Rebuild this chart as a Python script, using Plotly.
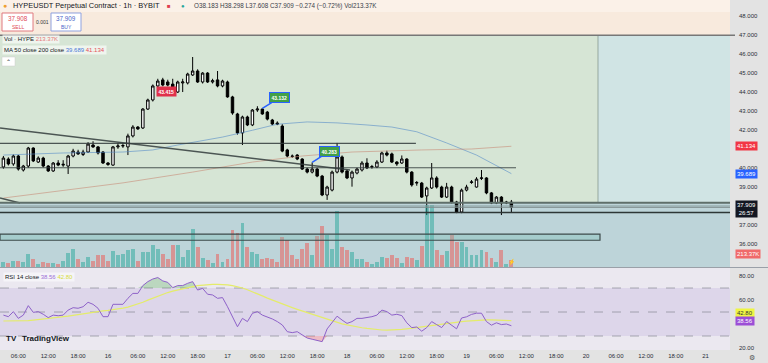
import plotly.graph_objects as go
import pandas as pd

W, H = 768, 363
# ---------------- data ----------------
start_time = "2025-02-15 03:00"
opens = [40.04,40.46,40.20,40.62,39.88,40.09,41.04,40.30,40.51,40.09,39.83,40.25,40.14,40.09,40.62,40.83,40.70,40.83,41.20,41.10,
         40.83,40.25,40.14,41.10,41.15,41.10,41.68,42.15,42.10,43.10,43.58,44.32,44.64,44.53,44.42,44.00,44.48,44.48,44.90,45.11,
         44.53,45.00,44.53,44.64,44.32,44.53,43.74,42.84,41.84,42.68,42.26,43.05,43.10,42.94,42.52,42.36,42.20,40.94,40.62,40.67,
         40.46,39.93,39.77,39.93,39.56,38.56,38.82,39.77,40.57,39.83,39.46,39.72,39.88,40.25,40.04,40.04,40.30,40.78,40.73,40.30,
         40.25,40.46,39.77,39.19,39.19,38.51,38.93,39.46,38.98,38.45,38.98,38.19,37.66,38.82,39.22,38.98,39.44,39.46,38.67,38.14,
         38.45,38.14,38.183]
closes = [40.51,40.20,40.62,39.93,40.09,41.04,40.36,40.51,40.09,39.83,40.25,40.14,40.18,40.62,40.88,40.73,40.83,41.25,41.10,40.78,
          40.25,40.17,41.10,41.15,41.17,41.68,42.15,42.05,43.10,43.58,44.32,44.58,44.37,44.37,44.00,44.53,44.53,44.95,45.11,44.53,
          45.00,44.53,44.60,44.32,44.58,43.74,42.89,41.84,42.68,42.26,43.05,43.10,42.84,42.57,42.31,42.31,40.88,40.62,40.60,40.46,
          39.93,39.77,39.93,39.56,38.56,38.98,39.77,40.57,39.77,39.46,39.77,39.93,40.25,39.99,40.06,40.30,40.78,40.67,40.30,40.20,
          40.46,39.77,39.09,39.22,38.45,38.93,39.46,38.98,38.45,38.98,38.19,37.66,38.82,38.98,39.25,39.40,39.46,38.67,38.14,38.45,
          38.14,38.18,37.909]
highs = [40.62,40.55,40.70,40.68,40.15,41.10,41.08,40.60,40.58,40.14,40.30,40.40,40.40,40.68,41.00,40.95,40.95,41.35,41.40,41.15,
         40.88,40.30,41.15,41.30,41.30,41.80,42.25,42.20,43.15,43.65,44.40,44.70,44.75,44.65,44.70,44.60,44.70,45.02,45.85,45.20,
         45.05,45.05,44.70,45.11,44.65,44.60,43.80,42.90,42.75,42.75,43.10,43.25,43.132,43.00,42.58,42.45,42.30,41.00,40.70,40.72,
         40.50,40.00,40.283,40.00,39.62,39.05,39.85,41.31,40.65,39.90,39.85,40.00,40.35,40.50,40.15,40.40,40.85,40.90,40.80,40.35,
         40.65,40.50,39.82,39.30,39.25,39.00,40.25,39.55,39.05,39.20,39.05,38.25,38.90,39.10,39.35,39.50,39.88,39.50,38.72,38.50,
         38.50,38.25,38.298]
lows = [39.95,40.12,40.10,39.85,39.80,40.00,40.30,40.25,40.02,39.78,39.78,40.08,40.05,39.67,40.55,40.68,40.62,40.78,41.05,40.70,
        40.20,40.10,40.10,41.00,41.05,40.67,41.60,42.00,42.05,43.05,43.50,44.25,44.30,44.30,43.90,43.95,44.00,44.40,44.85,44.48,
        44.45,44.48,44.45,44.25,44.25,43.70,42.80,41.75,41.20,42.20,42.20,42.95,42.80,42.50,42.25,42.25,40.82,40.55,40.52,40.40,
        39.88,39.70,39.70,39.50,38.50,38.30,38.75,39.70,39.70,39.40,39.00,39.65,39.80,39.93,39.95,39.98,40.25,40.60,40.25,40.10,
        40.20,39.70,39.00,39.05,38.40,37.50,38.88,38.90,38.40,38.40,38.12,37.60,37.60,38.75,39.15,38.95,39.35,38.60,38.08,38.08,
        37.50,38.08,37.608]
volumes_k = [150,120,180,180,150,390,240,90,150,120,120,90,180,420,540,240,150,300,180,360,
             360,180,480,360,390,510,540,180,450,450,660,540,390,240,660,660,300,510,1170,600,
             270,210,120,390,150,240,1140,1050,1350,600,450,390,240,270,240,150,900,810,360,240,
             540,720,360,960,1260,990,540,1710,600,510,450,240,240,150,90,150,300,270,360,270,
             120,300,270,210,630,1890,1890,510,360,480,990,750,750,600,360,360,510,450,270,150,
             510,90,213.37]
rsi = [47.4,46.1,50.3,44.7,47.4,55.3,49.7,50.3,48.1,45.3,47.4,46.9,47.4,51.6,53.6,53.1,54.4,58.1,56.4,53.1,
       46.1,46.1,56.4,56.4,56.4,61.4,65.5,65.5,72.0,75.3,77.5,78.7,75.9,74.7,70.3,72.0,72.0,73.9,75.3,68.3,
       69.7,64.8,64.2,61.4,62.0,54.4,46.1,37.7,44.7,42.0,48.9,50.3,47.4,46.1,44.2,42.0,39.2,33.6,32.8,33.6,
       30.8,28.3,27.3,26.3,25.3,35.9,41.7,46.5,43.3,40.5,42.0,44.7,44.7,45.3,46.1,47.4,51.6,50.3,47.4,48.1,
       47.0,41.0,37.0,37.5,34.0,37.0,42.0,39.5,37.0,42.0,39.0,36.0,45.0,46.0,48.0,49.0,49.0,42.0,39.0,41.0,
       39.5,40.0,38.56]
rsi_ma = [42.5,42.5,42.5,42.5,42.5,42.8,43.2,43.6,44.1,44.5,45.1,45.7,46.1,46.6,47.2,47.9,48.6,49.3,49.9,50.5,
          51.0,51.4,51.8,52.4,53.2,54.1,55.3,56.6,58.1,59.9,61.6,63.3,64.9,66.2,67.4,68.5,69.5,70.4,71.2,72.0,
          72.5,72.9,73.1,73.1,73.0,72.6,72.0,71.1,70.0,68.5,67.0,65.2,63.4,61.6,59.9,58.2,56.6,55.1,53.6,52.2,
          50.8,49.3,47.9,46.5,45.1,43.8,42.4,41.2,40.1,39.2,38.3,37.5,36.9,36.3,35.7,35.2,35.0,34.9,35.0,35.1,
          35.5,36.0,36.6,37.2,37.7,38.3,38.9,39.5,40.1,40.6,41.1,41.6,42.0,42.4,42.8,43.1,43.3,43.4,43.4,43.3,
          43.1,42.95,42.80]
ma50_idx = [0, 12, 24, 30, 35, 44, 50, 55, 61, 67, 73, 78, 83, 89, 95, 102]
ma50_val = [40.67, 40.78, 40.83, 40.94, 41.20, 41.62, 41.98, 42.30, 42.42, 42.37, 42.26, 42.15, 41.90, 41.31, 40.67, 39.689]
ma200_idx = [0, 12, 24, 38, 50, 60, 70, 84, 94, 102]
ma200_val = [38.40, 38.82, 39.20, 39.77, 40.30, 40.62, 40.83, 40.94, 40.99, 41.134]

price_ticks_display = [36, 37, 39, 40, 42, 43, 44, 45, 46, 47, 48]
rsi_ticks = [20, 60, 80]
time_tick_vals = ["2025-02-15 06:00","2025-02-15 12:00","2025-02-15 18:00","2025-02-16 00:00","2025-02-16 06:00",
                  "2025-02-16 12:00","2025-02-16 18:00","2025-02-17 00:00","2025-02-17 06:00","2025-02-17 12:00",
                  "2025-02-17 18:00","2025-02-18 00:00","2025-02-18 06:00","2025-02-18 12:00","2025-02-18 18:00",
                  "2025-02-19 00:00","2025-02-19 06:00","2025-02-19 12:00","2025-02-19 18:00","2025-02-20 00:00",
                  "2025-02-20 06:00","2025-02-20 12:00","2025-02-20 18:00","2025-02-21 00:00","2025-02-21 06:00"]
time_tick_text = ["06:00","12:00","18:00","16","06:00","12:00","18:00","17","06:00","12:00","18:00","18","06:00",
                  "12:00","18:00","19","06:00","12:00","18:00","20","06:00","12:00","18:00","21","06:0"]

times = pd.date_range(start_time, periods=len(closes), freq="h")

# ---------------- layout helpers ----------------
def px(x):
    return x / W
def py(y):
    return 1 - y / H

X_END = 730
FONT = "Liberation Sans"
main_dom = [py(267), py(0)]
rsi_dom = [py(350), py(268)]
price_range = [48 - (267 - 16.3) / 18.93, 48 + 16.3 / 18.93]
rsi_range = [80 - (350 - 276) / 1.2, 80 + (276 - 268) / 1.2]
x_range = ["2025-02-15 02:19", "2025-02-21 04:54"]

fig = go.Figure()

# volume (overlay on main pane)
vol_colors = ["rgba(38,166,154,0.5)" if c >= o else "rgba(239,83,80,0.5)" for o, c in zip(opens, closes)]
fig.add_trace(go.Bar(x=times, y=volumes_k, marker_color=vol_colors, marker_line_width=0,
                     xaxis="x", yaxis="y3", width=0.78 * 3600 * 1000, showlegend=False, hoverinfo="skip"))

# moving averages
fig.add_trace(go.Scatter(x=[times[i] for i in ma50_idx], y=ma50_val, mode="lines",
                         line=dict(color="rgba(86,140,200,0.6)", width=1), xaxis="x", yaxis="y", showlegend=False))
fig.add_trace(go.Scatter(x=[times[i] for i in ma200_idx], y=ma200_val, mode="lines",
                         line=dict(color="rgba(200,140,120,0.6)", width=1), xaxis="x", yaxis="y", showlegend=False))

# candles
fig.add_trace(go.Candlestick(x=times, open=opens, high=highs, low=lows, close=closes,
                             increasing=dict(line=dict(color="#000000", width=1), fillcolor="#ffffff"),
                             decreasing=dict(line=dict(color="#000000", width=1), fillcolor="#000000"),
                             whiskerwidth=0, xaxis="x", yaxis="y", showlegend=False))

# RSI pane
fig.add_trace(go.Scatter(x=times, y=[70] * len(rsi), mode="lines", line=dict(width=0),
                         xaxis="x2", yaxis="y2", showlegend=False, hoverinfo="skip"))
fig.add_trace(go.Scatter(x=times, y=[max(r, 70) for r in rsi], mode="lines", line=dict(width=0),
                         fill="tonexty", fillcolor="rgba(76,175,80,0.3)",
                         xaxis="x2", yaxis="y2", showlegend=False, hoverinfo="skip"))
fig.add_trace(go.Scatter(x=times, y=[30] * len(rsi), mode="lines", line=dict(width=0),
                         xaxis="x2", yaxis="y2", showlegend=False, hoverinfo="skip"))
fig.add_trace(go.Scatter(x=times, y=[min(r, 30) for r in rsi], mode="lines", line=dict(width=0),
                         fill="tonexty", fillcolor="rgba(242,54,69,0.25)",
                         xaxis="x2", yaxis="y2", showlegend=False, hoverinfo="skip"))
fig.add_trace(go.Scatter(x=times, y=rsi_ma, mode="lines", line=dict(color="#e4ec6a", width=1.2),
                         xaxis="x2", yaxis="y2", showlegend=False))
fig.add_trace(go.Scatter(x=times, y=rsi, mode="lines", line=dict(color="#8e62c9", width=1),
                         xaxis="x2", yaxis="y2", showlegend=False))

shapes = []
# backgrounds
shapes.append(dict(type="rect", xref="paper", yref="paper", x0=0, x1=px(X_END), y0=main_dom[0], y1=1,
                   fillcolor="#bdd4d9", line_width=0, layer="below"))
shapes.append(dict(type="rect", xref="paper", yref="y", x0=0, x1=px(X_END), y0=47, y1=price_range[1],
                   fillcolor="#f8eadd", line_width=0, layer="below"))
shapes.append(dict(type="rect", xref="paper", yref="y", x0=0, x1=px(598), y0=38.15, y1=47,
                   fillcolor="#d6e5d5", line_width=0, layer="below"))
shapes.append(dict(type="rect", xref="paper", yref="y", x0=px(598), x1=px(X_END), y0=38.15, y1=47,
                   fillcolor="#d0e4e4", line_width=0, layer="below"))
shapes.append(dict(type="line", xref="paper", yref="y", x0=px(598), x1=px(598), y0=38.15, y1=47,
                   line=dict(color="rgba(90,110,100,0.5)", width=1), layer="below"))
shapes.append(dict(type="rect", xref="paper", yref="paper", x0=0, x1=px(X_END), y0=rsi_dom[0], y1=rsi_dom[1],
                   fillcolor="#ebe8f0", line_width=0, layer="below"))
shapes.append(dict(type="rect", xref="paper", yref="y2", x0=0, x1=px(X_END), y0=30, y1=70,
                   fillcolor="rgba(126,87,194,0.12)", line_width=0, layer="below"))
for lv in (70, 50, 30):
    shapes.append(dict(type="line", xref="paper", yref="y2", x0=0, x1=px(X_END), y0=lv, y1=lv,
                       line=dict(color="rgba(120,123,134,0.6)", width=1, dash="dash"), layer="below"))
# pane separator
shapes.append(dict(type="line", xref="paper", yref="paper", x0=0, x1=1, y0=py(267.5), y1=py(267.5),
                   line=dict(color="#9aa0a8", width=1)))

# drawings (price coordinates)
dark = "rgba(50,60,60,0.85)"
shapes += [
    dict(type="line", xref="paper", yref="y", x0=0, x1=px(X_END + 5), y0=47, y1=47, line=dict(color="#777", width=1.5)),
    dict(type="line", xref="x", yref="y", x0="2025-02-15 02:19", y0=42.10, x1="2025-02-18 00:36", y1=39.88,
         line=dict(color=dark, width=1.6)),
    dict(type="line", xref="x", yref="y", x0="2025-02-15 02:19", y0=38.40, x1="2025-02-15 06:20", y1=38.14,
         line=dict(color=dark, width=1.6)),
    dict(type="line", xref="x", yref="y", x0="2025-02-15 02:19", y0=41.29, x1="2025-02-18 13:50", y1=41.29,
         line=dict(color=dark, width=1.2)),
    dict(type="line", xref="x", yref="y", x0="2025-02-15 02:19", y0=40.00, x1="2025-02-19 09:56", y1=40.00,
         line=dict(color=dark, width=1.2)),
    dict(type="line", xref="paper", yref="y", x0=0, x1=px(X_END), y0=38.15, y1=38.15, line=dict(color="#5f6f6a", width=2)),
    dict(type="line", xref="paper", yref="y", x0=0, x1=px(X_END), y0=37.98, y1=37.98, line=dict(color="#8aa0a0", width=1)),
    dict(type="line", xref="paper", yref="y", x0=0, x1=px(X_END), y0=37.909, y1=37.909, line=dict(color="#7d8c8c", width=1)),
    dict(type="line", xref="paper", yref="y", x0=0, x1=px(X_END), y0=37.63, y1=37.63, line=dict(color="#2d3636", width=1.5)),
    dict(type="rect", xref="paper", yref="y", x0=0, x1=px(600), y0=36.17, y1=36.49,
         fillcolor="rgba(120,190,180,0.35)", line=dict(color="#3c4a4a", width=1.2)),
]

ann = []
def text(x, y, t, size=7, color="#131722", anchor="left", bg=None, bold=False, bordercolor=None):
    d = dict(xref="paper", yref="paper", x=px(x), y=py(y), text=(f"<b>{t}</b>" if bold else t), showarrow=False,
             xanchor=anchor, yanchor="middle", font=dict(family=FONT, size=size, color=color))
    if bg:
        d.update(bgcolor=bg, borderpad=1)
    if bordercolor:
        d.update(bordercolor=bordercolor, borderwidth=1)
    ann.append(d)

# header
shapes.append(dict(type="rect", xref="paper", yref="paper", x0=0, x1=px(X_END), y0=py(12), y1=1,
                   fillcolor="#fbf1e8", line_width=0, layer="below"))
text(1, 6, "●", size=7, color="#f0a030")
text(11, 6, "HYPEUSDT Perpetual Contract · 1h · BYBIT", size=7.4)
text(165, 6, "■", size=6, color="#e04050")
text(179, 6, "●", size=6, color="#26a69a")
text(192, 6, "O38.183 H38.298 L37.608 C37.909 −0.274 (−0.72%) Vol213.37K", size=6.3, color="#3a3e48")
shapes.append(dict(type="rect", xref="paper", yref="paper", x0=px(2), x1=px(33), y0=py(31), y1=py(13),
                   fillcolor="#ffffff", line=dict(color="#e07a80", width=1)))
shapes.append(dict(type="rect", xref="paper", yref="paper", x0=px(51), x1=px(81), y0=py(31), y1=py(13),
                   fillcolor="#ffffff", line=dict(color="#8fa2e0", width=1)))
text(17.5, 19, "37.908", size=6.3, color="#e04a55", anchor="center")
text(17.5, 26.5, "SELL", size=5, color="#e04a55", anchor="center")
text(42, 22, "0.001", size=5, color="#333", anchor="center")
text(66, 19, "37.909", size=6.3, color="#4a64c8", anchor="center")
text(66, 26.5, "BUY", size=5, color="#4a64c8", anchor="center")
text(2, 38.5, "Vol · HYPE <span style='color:#e5787a'>213.37K</span>", size=6, bg="rgba(255,255,255,0.6)")
text(2, 50, "MA 50 close 200 close <span style='color:#4a78d8'>39.689</span> <span style='color:#e5505a'>41.134</span>",
     size=6, bg="rgba(255,255,255,0.6)")
shapes.append(dict(type="rect", xref="paper", yref="paper", x0=px(2), x1=px(15), y0=py(66), y1=py(57),
                   fillcolor="#ffffff", line=dict(color="#cccccc", width=0.5)))
text(8.5, 62, "⌃", size=6, anchor="center")

# price labels on chart
ann.append(dict(xref="x", yref="y", x="2025-02-16 11:40", y=44.05, text="<b>43.415</b>", showarrow=False,
                font=dict(family=FONT, size=5, color="white"), bgcolor="#e0314b", borderpad=1.5))
for tx, ty, ax_t, ay_t, lab in [("2025-02-17 07:00", 43.132, "2025-02-17 10:30", 43.70, "43.132"),
                                ("2025-02-17 17:00", 40.283, "2025-02-17 20:30", 40.88, "40.283")]:
    ann.append(dict(xref="x", yref="y", x=tx, y=ty, ax=ax_t, ay=ay_t, axref="x", ayref="y",
                    text=f"<b>{lab}</b>", showarrow=True, arrowhead=0, arrowcolor="#2962ff", arrowwidth=1.5,
                    font=dict(family=FONT, size=5, color="white"), bgcolor="#43a047",
                    bordercolor="#2962ff", borderwidth=1, borderpad=1.5))

# right axis coloured labels
for val, lab, bg, fc in [(41.134, "41.134", "#f23645", "white"), (39.689, "39.689", "#2962ff", "white")]:
    ann.append(dict(xref="paper", yref="y", x=px(735), y=val, text=lab, showarrow=False, xanchor="left",
                    font=dict(family=FONT, size=6, color=fc), bgcolor=bg, borderpad=1))
ann.append(dict(xref="paper", yref="y", x=px(735), y=37.80, text="37.909<br>26:57", showarrow=False, xanchor="left",
                font=dict(family=FONT, size=6, color="white"), bgcolor="#131722", borderpad=1))
ann.append(dict(xref="paper", yref="paper", x=px(735), y=py(258.5), text="213.37K", showarrow=False, xanchor="left",
                font=dict(family=FONT, size=6, color="white"), bgcolor="#f06a6a", borderpad=1))
ann.append(dict(xref="paper", yref="paper", x=px(735), y=py(318), text="42.80", showarrow=False, xanchor="left",
                font=dict(family=FONT, size=6, color="#333"), bgcolor="#eef542", borderpad=1))
ann.append(dict(xref="paper", yref="paper", x=px(735), y=py(325.5), text="38.56", showarrow=False, xanchor="left",
                font=dict(family=FONT, size=6, color="white"), bgcolor="#9c4fd6", borderpad=1))
text(3, 277, "RSI 14 close <span style='color:#9c6fd6'>38.56</span> <span style='color:#d5dc40'>42.80</span>", size=6,
     bg="rgba(255,255,255,0.5)")
text(4, 338, "<b>TV</b>", size=8)
text(20, 338, "<b>TradingView</b>", size=8)
text(511, 262, "⚡", size=6, color="#d04090", anchor="center")
text(752, 357, "⚙", size=7, color="#555", anchor="center")

fig.update_layout(
    width=W, height=H, margin=dict(l=0, r=0, t=0, b=0),
    paper_bgcolor="#e3e3e3", plot_bgcolor="rgba(0,0,0,0)",
    font=dict(family=FONT, size=6, color="#2a2e39"),
    shapes=shapes, annotations=ann, showlegend=False, bargap=0,
    xaxis=dict(domain=[0, px(X_END)], range=x_range, anchor="y", showticklabels=False, showgrid=False,
               zeroline=False, rangeslider=dict(visible=False), matches="x2"),
    yaxis=dict(domain=main_dom, range=price_range, side="right", tickvals=price_ticks_display,
               ticktext=[f"{v:.3f}" for v in price_ticks_display], showgrid=False, zeroline=False,
               ticks="", ticklabelstandoff=8, tickfont=dict(size=6, color="#2a2e39")),
    yaxis3=dict(domain=main_dom, range=[0, 267 * 30.5], overlaying="y", visible=False, fixedrange=True),
    xaxis2=dict(domain=[0, px(X_END)], range=x_range, anchor="y2", tickvals=time_tick_vals, ticktext=time_tick_text,
                showgrid=False, zeroline=False, ticks="", tickfont=dict(size=6, color="#2a2e39"), ticklabelstandoff=1),
    yaxis2=dict(domain=rsi_dom, range=rsi_range, side="right", tickvals=rsi_ticks,
                ticktext=[f"{v:.2f}" for v in rsi_ticks], showgrid=False, zeroline=False, ticks="",
                ticklabelstandoff=8, tickfont=dict(size=6, color="#2a2e39")),
)
fig.write_html("out.html", config={"displayModeBar": False},
               post_script="document.body.style.margin='0';document.body.style.padding='0';")
